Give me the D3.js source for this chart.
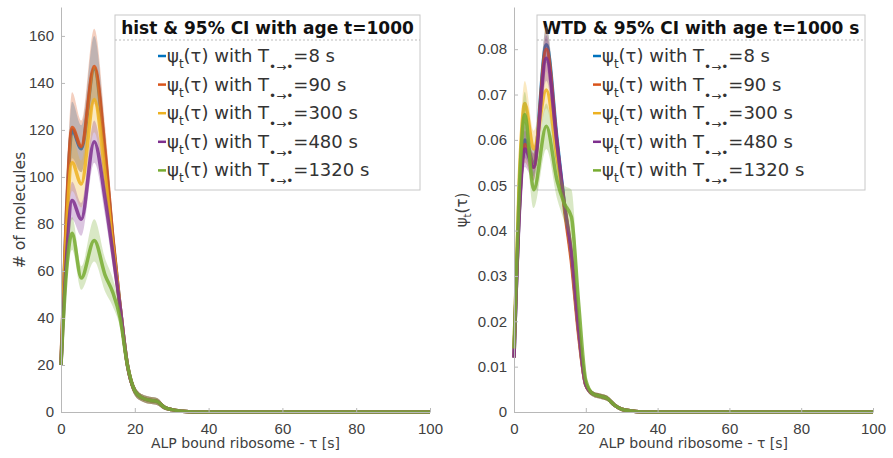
<!DOCTYPE html>
<html>
<head>
<meta charset="utf-8">
<script src="https://cdn.jsdelivr.net/npm/d3@7"></script>
<style>
  body { margin: 0; background: #fff; }
  svg { font-family: "DejaVu Sans", sans-serif; }
  .tick text { fill: #404040; font-size: 15px; }
  .tick line, .domain { stroke: #b8b8b8; }
</style>
</head>
<body>
<svg id="chart" width="893" height="458"></svg>
<script>
// waiting time grid (s)
var tau = [0, 1.5, 3, 5.5, 9, 12, 14, 16, 18, 20, 22, 24, 26, 28, 30, 33, 36, 40, 100];

var ageLabels = ['8', '90', '300', '480', '1320'];
var colors = ['#0072BD', '#D95319', '#EDB120', '#7E2F8E', '#77AC30'];

// histogram (# of molecules)
var hist8    = [20, 84, 120, 112, 146, 108, 74, 45, 20, 9, 6, 5, 4.5, 2, 1, 0.3, 0, 0, 0];
var hist90   = [21, 86, 121, 113, 147, 110, 75, 45, 20, 9, 6, 5, 4.5, 2, 1, 0.3, 0, 0, 0];
var hist300  = [20, 78, 106, 97, 133, 100, 71, 45, 20, 9, 6, 5, 4.5, 2, 1, 0.3, 0, 0, 0];
var hist480  = [20, 66, 90, 82, 115, 90, 68, 45, 20, 9, 6, 5, 4.5, 2, 1, 0.3, 0, 0, 0];
var hist1320 = [20, 60, 76, 57, 73, 58, 51, 40, 20, 9, 6, 5, 4.5, 2, 1, 0.3, 0, 0, 0];

// 95% CI half widths for histogram
var ciHist8    = [3, 8, 12, 10, 14, 10, 7, 5, 3, 2, 1.5, 1.5, 1.5, 1, 0.5, 0.2, 0, 0, 0];
var ciHist90   = [3, 9, 15, 11, 16, 11, 8, 5, 3, 2, 1.5, 1.5, 1.5, 1, 0.5, 0.2, 0, 0, 0];
var ciHist300  = [3, 8, 12, 10, 14, 10, 7, 5, 3, 2, 1.5, 1.5, 1.5, 1, 0.5, 0.2, 0, 0, 0];
var ciHist480  = [2, 6, 8, 7, 9, 7, 6, 4, 3, 2, 1.5, 1.5, 1.5, 1, 0.5, 0.2, 0, 0, 0];
var ciHist1320 = [2, 6, 7, 5, 9, 7, 6, 4, 3, 2, 1.5, 1.5, 1.5, 1, 0.5, 0.2, 0, 0, 0];

// waiting time distribution
var wtd8    = [0.012, 0.045, 0.060, 0.055, 0.081, 0.060, 0.046, 0.034, 0.018, 0.006, 0.004, 0.0035, 0.003, 0.0015, 0.0006, 0.0002, 0, 0, 0];
var wtd90   = [0.012, 0.045, 0.059, 0.054, 0.080, 0.059, 0.045, 0.033, 0.017, 0.006, 0.004, 0.0035, 0.003, 0.0015, 0.0006, 0.0002, 0, 0, 0];
var wtd300  = [0.014, 0.052, 0.068, 0.058, 0.071, 0.056, 0.046, 0.035, 0.018, 0.006, 0.004, 0.0035, 0.003, 0.0015, 0.0006, 0.0002, 0, 0, 0];
var wtd480  = [0.012, 0.044, 0.058, 0.054, 0.078, 0.059, 0.046, 0.035, 0.018, 0.006, 0.004, 0.0035, 0.003, 0.0015, 0.0006, 0.0002, 0, 0, 0];
var wtd1320 = [0.014, 0.050, 0.0656, 0.049, 0.063, 0.051, 0.046, 0.043, 0.024, 0.007, 0.004, 0.0035, 0.003, 0.0015, 0.0006, 0.0002, 0, 0, 0];

// 95% CI half widths for WTD
var ciWtd8    = [0.001, 0.003, 0.004, 0.003, 0.004, 0.003, 0.002, 0.002, 0.001, 0.0008, 0.0006, 0.0006, 0.0006, 0.0004, 0.0002, 0.0001, 0, 0, 0];
var ciWtd90   = [0.001, 0.003, 0.004, 0.003, 0.005, 0.003, 0.002, 0.002, 0.001, 0.0008, 0.0006, 0.0006, 0.0006, 0.0004, 0.0002, 0.0001, 0, 0, 0];
var ciWtd300  = [0.001, 0.004, 0.005, 0.004, 0.004, 0.003, 0.002, 0.002, 0.001, 0.0008, 0.0006, 0.0006, 0.0006, 0.0004, 0.0002, 0.0001, 0, 0, 0];
var ciWtd480  = [0.001, 0.003, 0.004, 0.003, 0.005, 0.003, 0.002, 0.002, 0.001, 0.0008, 0.0006, 0.0006, 0.0006, 0.0004, 0.0002, 0.0001, 0, 0, 0];
var ciWtd1320 = [0.001, 0.004, 0.005, 0.004, 0.005, 0.004, 0.004, 0.006, 0.003, 0.001, 0.0006, 0.0006, 0.0006, 0.0004, 0.0002, 0.0001, 0, 0, 0];

var xTicks = [0, 20, 40, 60, 80, 100];
var histTicks = [0, 20, 40, 60, 80, 100, 120, 140, 160];
var wtdTicks = [0, 0.01, 0.02, 0.03, 0.04, 0.05, 0.06, 0.07, 0.08];

var svg = d3.select('#chart');

function panel(opt) {
  var x = d3.scaleLinear().domain([0, 100]).range(opt.xr);
  var y = d3.scaleLinear().domain([0, opt.ymax]).range([412, 7]);
  var g = svg.append('g');

  // legend (drawn first, transparent, data goes over it)
  var L = opt.legend;
  var leg = g.append('g');
  leg.append('rect').attr('x', L.x).attr('y', 15).attr('width', L.w).attr('height', 175)
    .attr('fill', 'none').attr('stroke', '#c8c8c8');
  leg.append('line').attr('x1', L.x).attr('x2', L.x + L.w).attr('y1', 40).attr('y2', 40)
    .attr('stroke', '#bbb').attr('stroke-dasharray', '2,2');
  leg.append('text').attr('x', L.x + L.w / 2).attr('y', 34)
    .attr('text-anchor', 'middle').attr('font-size', 17).attr('font-weight', 'bold')
    .attr('fill', '#111').text(L.title);

  ageLabels.forEach(function(a, i) {
    var cy = 56 + i * 28.6;
    leg.append('line').attr('x1', L.lx).attr('x2', L.lx + 8).attr('y1', cy).attr('y2', cy)
      .attr('stroke', colors[i]).attr('stroke-width', 2.5);
    var t = leg.append('text').attr('x', L.lx + 9).attr('y', cy + 6)
      .attr('font-size', 18).attr('fill', '#333');
    t.append('tspan').text('ψ');
    t.append('tspan').attr('font-size', 12).attr('dy', 6).text('t');
    t.append('tspan').attr('dy', -6).text('(τ) with T');
    t.append('tspan').attr('font-size', 12).attr('dy', 9).text('•→•');
    t.append('tspan').attr('dy', -9).text('=' + a + ' s');
  });

  var area = d3.area()
    .x(function(d) { return x(d.t); })
    .y0(function(d) { return y(Math.max(0, d.v - d.c)); })
    .y1(function(d) { return y(d.v + d.c); })
    .curve(d3.curveMonotoneX);
  var line = d3.line()
    .x(function(d) { return x(d.t); })
    .y(function(d) { return y(d.v); })
    .curve(d3.curveMonotoneX);

  opt.series.forEach(function(s, i) {
    var pts = tau.map(function(t, j) { return {t: t, v: s[j], c: opt.ci[i][j]}; });
    g.append('path').attr('d', area(pts))
      .attr('fill', colors[i]).attr('fill-opacity', 0.28).attr('stroke', 'none');
    g.append('path').attr('d', line(pts))
      .attr('fill', 'none').attr('stroke', colors[i])
      .attr('stroke-width', 3.5).attr('stroke-opacity', 0.85);
  });

  g.append('g').attr('transform', 'translate(0,412)')
    .call(d3.axisBottom(x).tickValues(xTicks).tickSizeInner(-4).tickSizeOuter(0).tickPadding(8))
    .call(function(a) { a.selectAll('text').attr('dy', '0.9em'); });
  g.append('g').attr('transform', 'translate(' + opt.xr[0] + ',0)')
    .call(d3.axisLeft(y).tickValues(opt.yTicks).tickFormat(opt.fmt)
      .tickSizeInner(-4).tickSizeOuter(0).tickPadding(7));

  g.append('text')
    .attr('x', (opt.xr[0] + opt.xr[1]) / 2).attr('y', 448)
    .attr('text-anchor', 'middle').attr('font-size', 14).attr('fill', '#404040')
    .text('ALP bound ribosome - τ [s]');
}

panel({
  xr: [61, 430], ymax: 172.3, yTicks: histTicks, fmt: d3.format('d'),
  series: [hist8, hist90, hist300, hist480, hist1320],
  ci: [ciHist8, ciHist90, ciHist300, ciHist480, ciHist1320],
  legend: {x: 115, w: 305, lx: 158, title: 'hist & 95% CI with age t=1000'}
});

panel({
  xr: [514, 873], ymax: 0.0893, yTicks: wtdTicks,
  fmt: function(d) { return d === 0 ? '0' : d3.format('.2f')(d); },
  series: [wtd8, wtd90, wtd300, wtd480, wtd1320],
  ci: [ciWtd8, ciWtd90, ciWtd300, ciWtd480, ciWtd1320],
  legend: {x: 537, w: 328, lx: 593, title: 'WTD & 95% CI with age t=1000 s'}
});

// y labels
svg.append('text').attr('transform', 'translate(25,210) rotate(-90)')
  .attr('text-anchor', 'middle').attr('font-size', 15.5).attr('fill', '#404040')
  .text('# of molecules');
var yl = svg.append('text').attr('transform', 'translate(467,210) rotate(-90)')
  .attr('text-anchor', 'middle').attr('font-size', 15).attr('fill', '#404040');
yl.append('tspan').text('ψ');
yl.append('tspan').attr('font-size', 10).attr('dy', 4).text('t');
yl.append('tspan').attr('dy', -4).text('(τ)');
</script>
</body>
</html>
